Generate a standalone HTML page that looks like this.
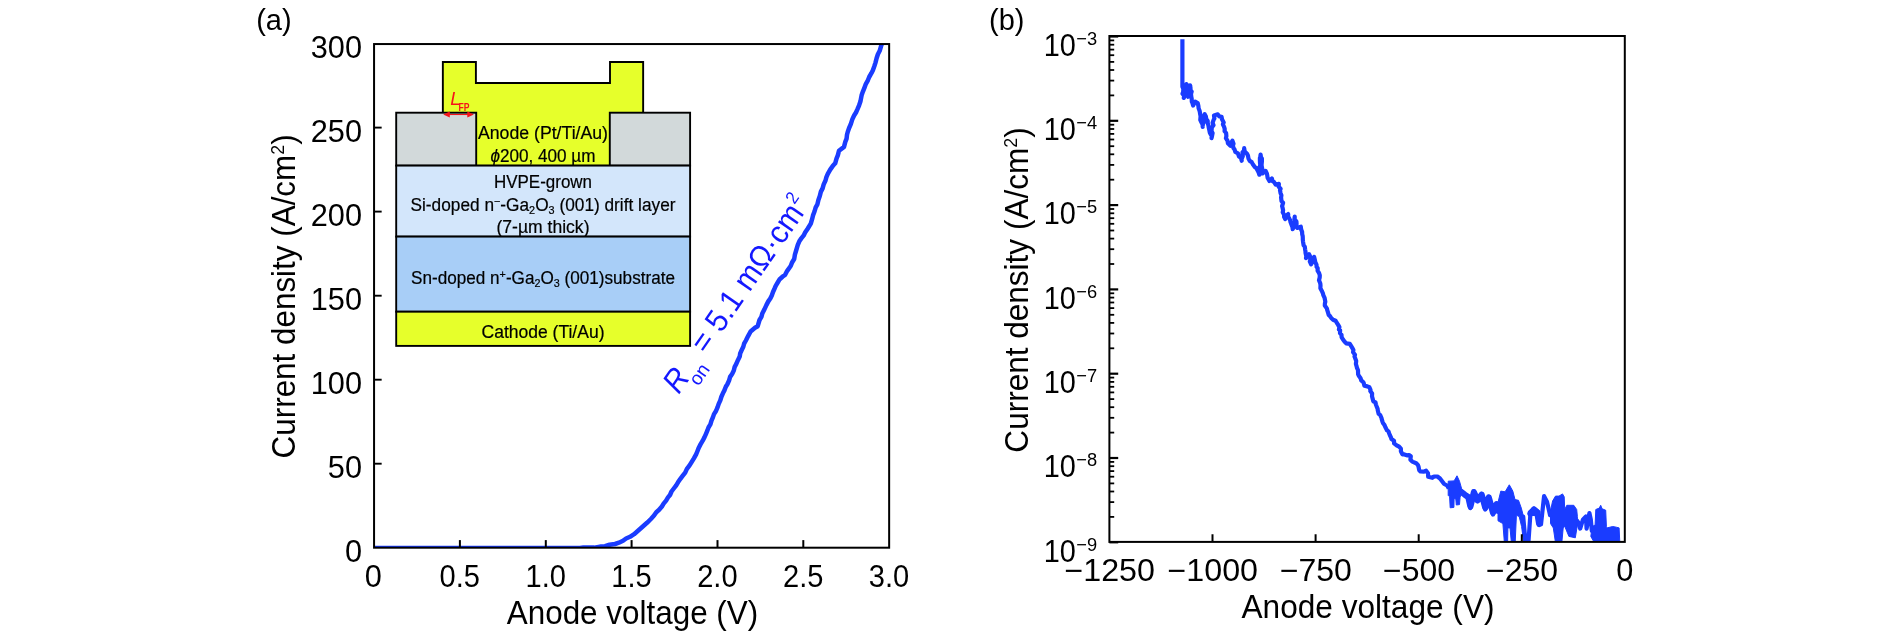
<!DOCTYPE html>
<html><head><meta charset="utf-8"><title>Figure</title>
<style>
html,body{margin:0;padding:0;background:#fff;}
body{width:1890px;height:636px;overflow:hidden;font-family:"Liberation Sans", sans-serif;}
svg{display:block;font-family:"Liberation Sans", sans-serif;will-change:transform;}
</style></head>
<body>
<svg width="1890" height="636" viewBox="0 0 1890 636">
<rect x="0" y="0" width="1890" height="636" fill="#ffffff"/>
<text x="373.3" y="587" font-size="30.7" text-anchor="middle" fill="#000" stroke="#000" stroke-width="0">0</text>
<text x="459.8" y="587" font-size="30.7" text-anchor="middle" fill="#000" stroke="#000" stroke-width="0" textLength="40.4" lengthAdjust="spacingAndGlyphs">0.5</text>
<text x="545.7" y="587" font-size="30.7" text-anchor="middle" fill="#000" stroke="#000" stroke-width="0" textLength="40.4" lengthAdjust="spacingAndGlyphs">1.0</text>
<text x="631.5" y="587" font-size="30.7" text-anchor="middle" fill="#000" stroke="#000" stroke-width="0" textLength="40.4" lengthAdjust="spacingAndGlyphs">1.5</text>
<text x="717.4" y="587" font-size="30.7" text-anchor="middle" fill="#000" stroke="#000" stroke-width="0" textLength="40.4" lengthAdjust="spacingAndGlyphs">2.0</text>
<text x="803.2" y="587" font-size="30.7" text-anchor="middle" fill="#000" stroke="#000" stroke-width="0" textLength="40.4" lengthAdjust="spacingAndGlyphs">2.5</text>
<text x="889.0" y="587" font-size="30.7" text-anchor="middle" fill="#000" stroke="#000" stroke-width="0" textLength="40.4" lengthAdjust="spacingAndGlyphs">3.0</text>
<text x="362" y="562.0" font-size="30.7" text-anchor="end" fill="#000" stroke="#000" stroke-width="0">0</text>
<text x="362" y="478.0" font-size="30.7" text-anchor="end" fill="#000" stroke="#000" stroke-width="0">50</text>
<text x="362" y="394.0" font-size="30.7" text-anchor="end" fill="#000" stroke="#000" stroke-width="0">100</text>
<text x="362" y="310.0" font-size="30.7" text-anchor="end" fill="#000" stroke="#000" stroke-width="0">150</text>
<text x="362" y="225.9" font-size="30.7" text-anchor="end" fill="#000" stroke="#000" stroke-width="0">200</text>
<text x="362" y="141.9" font-size="30.7" text-anchor="end" fill="#000" stroke="#000" stroke-width="0">250</text>
<text x="362" y="57.9" font-size="30.7" text-anchor="end" fill="#000" stroke="#000" stroke-width="0">300</text>
<text x="632.5" y="624.3" font-size="33.5" text-anchor="middle" fill="#000" stroke="#000" stroke-width="0" textLength="251.5" lengthAdjust="spacingAndGlyphs">Anode voltage (V)</text>
<g transform="translate(295 296.4) rotate(-90)">
<text x="0" y="0" font-size="33.5" text-anchor="middle" fill="#000" stroke="#000" stroke-width="0" textLength="324" lengthAdjust="spacingAndGlyphs">Current density (A/cm<tspan font-size="19" dy="-11">2</tspan><tspan dy="11">)</tspan></text>
</g>
<text x="256.2" y="30.2" font-size="29" text-anchor="start" fill="#000" stroke="#000" stroke-width="0">(a)</text>
<polygon points="442.85,62.05 475.9,62.05 475.9,83 610,83 610,62.05 643.15,62.05 643.15,165.6 442.85,165.6" fill="#e6ff2b" stroke="#000" stroke-width="1.9" stroke-linejoin="miter"/>
<rect x="396.2" y="112.7" width="80" height="52.9" fill="#d2d9da" stroke="#000" stroke-width="1.9"/>
<rect x="609.8" y="112.7" width="80.3" height="52.9" fill="#d2d9da" stroke="#000" stroke-width="1.9"/>
<rect x="396.2" y="165.6" width="293.9" height="71" fill="#d3e6fb" stroke="#000" stroke-width="1.9"/>
<rect x="396.2" y="236.6" width="293.9" height="75.1" fill="#a8cef7" stroke="#000" stroke-width="1.9"/>
<rect x="396.2" y="311.7" width="293.9" height="34.2" fill="#e6ff2b" stroke="#000" stroke-width="1.9"/>
<text x="543" y="138.8" font-size="17.5" text-anchor="middle" fill="#000" stroke="#000" stroke-width="0.2" textLength="130" lengthAdjust="spacingAndGlyphs">Anode (Pt/Ti/Au)</text>
<text x="543" y="162" font-size="17.5" text-anchor="middle" fill="#000" stroke="#000" stroke-width="0.2" textLength="105" lengthAdjust="spacingAndGlyphs"><tspan font-style="italic">&#981;</tspan>200, 400 &#181;m</text>
<text x="543" y="187.6" font-size="17.5" text-anchor="middle" fill="#000" stroke="#000" stroke-width="0.2" textLength="98" lengthAdjust="spacingAndGlyphs">HVPE-grown</text>
<text x="543" y="210.7" font-size="17.5" text-anchor="middle" fill="#000" stroke="#000" stroke-width="0.2" textLength="265" lengthAdjust="spacingAndGlyphs">Si-doped n<tspan font-size="11" dy="-6">&#8722;</tspan><tspan dy="6">-Ga</tspan><tspan font-size="11" dy="3">2</tspan><tspan dy="-3">O</tspan><tspan font-size="11" dy="3">3</tspan><tspan dy="-3"> (001) drift layer</tspan></text>
<text x="543" y="233" font-size="17.5" text-anchor="middle" fill="#000" stroke="#000" stroke-width="0.2" textLength="93" lengthAdjust="spacingAndGlyphs">(7-&#181;m thick)</text>
<text x="543" y="284" font-size="17.5" text-anchor="middle" fill="#000" stroke="#000" stroke-width="0.2" textLength="264" lengthAdjust="spacingAndGlyphs">Sn-doped n<tspan font-size="11" dy="-6">+</tspan><tspan dy="6">-Ga</tspan><tspan font-size="11" dy="3">2</tspan><tspan dy="-3">O</tspan><tspan font-size="11" dy="3">3</tspan><tspan dy="-3"> (001)substrate</tspan></text>
<text x="543" y="338" font-size="17.5" text-anchor="middle" fill="#000" stroke="#000" stroke-width="0.2" textLength="123" lengthAdjust="spacingAndGlyphs">Cathode (Ti/Au)</text>
<text x="450.3" y="104.8" font-size="18.5" text-anchor="start" fill="#f5141a" stroke="#f5141a" stroke-width="0" font-style="italic">L</text>
<text x="458.6" y="110.6" font-size="10" font-weight="bold" fill="#f5141a" textLength="11" lengthAdjust="spacingAndGlyphs">FP</text>
<path d="M446 114.5 L471.5 114.5" stroke="#f5141a" stroke-width="1.1" fill="none"/>
<path d="M443.2 114.5 l6.6 -3.1 v6.2 z M473.9 114.5 l-6.6 -3.1 v6.2 z" fill="#f5141a"/>
<clipPath id="cl"><rect x="374.06" y="44.05" width="515.0899999999999" height="503.65000000000003"/></clipPath>
<polyline clip-path="url(#cl)" points="374.3,548.0 560.0,548.0 580.0,548.0 583.3,547.6 587.2,547.4 590.5,547.6 594.0,547.6 597.2,547.1 600.9,546.6 605.0,546.2 609.6,544.7 615.0,544.0 618.9,542.7 623.0,540.8 626.1,538.5 630.0,536.8 634.1,534.2 638.0,530.8 641.1,528.0 644.5,525.0 647.0,522.8 650.9,519.0 654.0,515.6 656.3,512.2 659.1,509.8 661.9,506.5 663.6,503.7 666.1,500.6 668.0,497.4 670.0,495.0 671.5,491.5 673.8,488.5 676.2,485.3 678.0,482.3 680.4,478.8 682.6,475.9 685.2,472.6 686.9,468.9 689.4,465.7 691.9,461.6 693.9,458.3 696.1,454.4 697.3,451.5 698.8,447.7 700.5,444.4 702.7,440.7 704.4,437.4 706.0,433.8 707.3,430.7 708.6,427.3 710.4,424.4 711.5,420.6 712.9,417.4 714.0,414.1 716.0,411.0 717.7,406.9 718.7,403.9 720.3,400.4 721.3,397.0 722.9,393.3 724.3,390.6 725.8,386.7 727.5,384.0 729.1,380.3 730.1,376.9 732.1,374.0 733.8,370.6 734.7,366.8 736.3,363.9 737.9,360.2 739.7,356.6 740.2,353.4 741.6,350.3 743.3,346.8 744.1,343.7 745.9,340.5 748.1,336.1 750.6,331.5 755.0,327.8 757.7,326.2 759.5,320.0 761.4,316.8 762.4,313.2 764.4,309.4 766.5,304.9 768.3,301.4 770.3,298.5 771.8,295.4 773.0,292.0 774.5,288.7 775.7,285.8 777.7,282.5 779.7,279.2 782.5,276.7 785.0,275.0 787.2,270.8 790.7,266.0 792.2,262.2 794.2,259.0 794.9,254.6 796.0,251.0 797.8,244.8 799.3,241.3 801.3,238.4 803.7,235.4 805.1,232.6 807.5,229.0 810.8,223.6 812.1,219.2 813.0,215.4 814.5,211.5 815.7,207.3 817.4,204.3 818.4,200.0 819.8,196.1 820.8,191.9 822.6,188.4 823.7,184.4 825.5,180.5 826.4,177.1 827.8,173.8 830.2,169.6 832.7,166.1 835.2,163.3 836.5,158.6 837.8,155.4 839.0,150.7 844.0,146.9 845.3,141.9 846.6,138.6 847.0,134.8 847.8,131.7 849.1,128.0 850.8,124.1 852.3,119.4 854.1,115.5 856.0,112.5 857.6,108.9 859.1,105.3 860.4,101.6 861.6,95.3 862.9,91.6 864.6,87.3 865.9,83.8 867.9,80.3 869.2,77.0 871.4,73.2 872.9,70.2 874.4,66.0 875.5,62.6 876.6,58.3 877.9,54.2 879.7,50.8 881.0,46.3 883.0,41.0" fill="none" stroke="#1a3cff" stroke-width="4.5" stroke-linejoin="round" stroke-linecap="butt"/>
<rect x="374.06" y="44.05" width="515.0899999999999" height="503.65000000000003" fill="none" stroke="#000" stroke-width="2"/>
<line x1="459.9" y1="547.7" x2="459.9" y2="540.1" stroke="#000" stroke-width="2"/>
<line x1="545.8" y1="547.7" x2="545.8" y2="540.1" stroke="#000" stroke-width="2"/>
<line x1="631.6" y1="547.7" x2="631.6" y2="540.1" stroke="#000" stroke-width="2"/>
<line x1="717.5" y1="547.7" x2="717.5" y2="540.1" stroke="#000" stroke-width="2"/>
<line x1="803.3" y1="547.7" x2="803.3" y2="540.1" stroke="#000" stroke-width="2"/>
<line x1="374.06" y1="463.7" x2="381.66" y2="463.7" stroke="#000" stroke-width="1.9"/>
<line x1="374.06" y1="379.7" x2="381.66" y2="379.7" stroke="#000" stroke-width="1.9"/>
<line x1="374.06" y1="295.7" x2="381.66" y2="295.7" stroke="#000" stroke-width="1.9"/>
<line x1="374.06" y1="211.6" x2="381.66" y2="211.6" stroke="#000" stroke-width="1.9"/>
<line x1="374.06" y1="127.6" x2="381.66" y2="127.6" stroke="#000" stroke-width="1.9"/>
<g transform="translate(678.8 395) rotate(-55.3)">
<text x="0" y="0" font-size="32" text-anchor="start" fill="#1418ff" stroke="#1418ff" stroke-width="0" textLength="21.4" lengthAdjust="spacingAndGlyphs" font-style="italic">R</text>
<text x="18" y="11.6" font-size="19" text-anchor="start" fill="#1418ff" stroke="#1418ff" stroke-width="0">on</text>
<text x="48.6" y="0" font-size="32" text-anchor="start" fill="#1418ff" stroke="#1418ff" stroke-width="0" textLength="172.8" lengthAdjust="spacingAndGlyphs">= 5.1 m&#937;&#183;cm</text>
<text x="222" y="-13" font-size="18" text-anchor="start" fill="#1418ff" stroke="#1418ff" stroke-width="0" textLength="9.3" lengthAdjust="spacingAndGlyphs">2</text>
</g>
<text x="1624.8" y="580.5" font-size="30.7" text-anchor="middle" fill="#000" stroke="#000" stroke-width="0">0</text>
<text x="1522.1" y="580.5" font-size="30.7" text-anchor="middle" fill="#000" stroke="#000" stroke-width="0" textLength="72" lengthAdjust="spacingAndGlyphs">&#8722;250</text>
<text x="1419.0" y="580.5" font-size="30.7" text-anchor="middle" fill="#000" stroke="#000" stroke-width="0" textLength="72" lengthAdjust="spacingAndGlyphs">&#8722;500</text>
<text x="1315.9" y="580.5" font-size="30.7" text-anchor="middle" fill="#000" stroke="#000" stroke-width="0" textLength="72" lengthAdjust="spacingAndGlyphs">&#8722;750</text>
<text x="1212.8" y="580.5" font-size="30.7" text-anchor="middle" fill="#000" stroke="#000" stroke-width="0" textLength="90.5" lengthAdjust="spacingAndGlyphs">&#8722;1000</text>
<text x="1109.7" y="580.5" font-size="30.7" text-anchor="middle" fill="#000" stroke="#000" stroke-width="0" textLength="90.5" lengthAdjust="spacingAndGlyphs">&#8722;1250</text>
<text x="1043.8" y="55.8" font-size="30.7" text-anchor="start" fill="#000" stroke="#000" stroke-width="0" textLength="32.1" lengthAdjust="spacingAndGlyphs">10</text>
<text x="1076.3" y="44.8" font-size="18.3" text-anchor="start" fill="#000" stroke="#000" stroke-width="0">&#8722;3</text>
<text x="1043.8" y="140.1" font-size="30.7" text-anchor="start" fill="#000" stroke="#000" stroke-width="0" textLength="32.1" lengthAdjust="spacingAndGlyphs">10</text>
<text x="1076.3" y="129.1" font-size="18.3" text-anchor="start" fill="#000" stroke="#000" stroke-width="0">&#8722;4</text>
<text x="1043.8" y="224.4" font-size="30.7" text-anchor="start" fill="#000" stroke="#000" stroke-width="0" textLength="32.1" lengthAdjust="spacingAndGlyphs">10</text>
<text x="1076.3" y="213.4" font-size="18.3" text-anchor="start" fill="#000" stroke="#000" stroke-width="0">&#8722;5</text>
<text x="1043.8" y="308.7" font-size="30.7" text-anchor="start" fill="#000" stroke="#000" stroke-width="0" textLength="32.1" lengthAdjust="spacingAndGlyphs">10</text>
<text x="1076.3" y="297.7" font-size="18.3" text-anchor="start" fill="#000" stroke="#000" stroke-width="0">&#8722;6</text>
<text x="1043.8" y="393.0" font-size="30.7" text-anchor="start" fill="#000" stroke="#000" stroke-width="0" textLength="32.1" lengthAdjust="spacingAndGlyphs">10</text>
<text x="1076.3" y="382.0" font-size="18.3" text-anchor="start" fill="#000" stroke="#000" stroke-width="0">&#8722;7</text>
<text x="1043.8" y="477.3" font-size="30.7" text-anchor="start" fill="#000" stroke="#000" stroke-width="0" textLength="32.1" lengthAdjust="spacingAndGlyphs">10</text>
<text x="1076.3" y="466.3" font-size="18.3" text-anchor="start" fill="#000" stroke="#000" stroke-width="0">&#8722;8</text>
<text x="1043.8" y="561.6" font-size="30.7" text-anchor="start" fill="#000" stroke="#000" stroke-width="0" textLength="32.1" lengthAdjust="spacingAndGlyphs">10</text>
<text x="1076.3" y="550.6" font-size="18.3" text-anchor="start" fill="#000" stroke="#000" stroke-width="0">&#8722;9</text>
<text x="1368" y="618.3" font-size="33.5" text-anchor="middle" fill="#000" stroke="#000" stroke-width="0" textLength="253" lengthAdjust="spacingAndGlyphs">Anode voltage (V)</text>
<g transform="translate(1027.8 290) rotate(-90)">
<text x="0" y="0" font-size="33.5" text-anchor="middle" fill="#000" stroke="#000" stroke-width="0" textLength="325.3" lengthAdjust="spacingAndGlyphs">Current density (A/cm<tspan font-size="19" dy="-11">2</tspan><tspan dy="11">)</tspan></text>
</g>
<text x="989" y="30.2" font-size="29" text-anchor="start" fill="#000" stroke="#000" stroke-width="0">(b)</text>
<clipPath id="cr"><rect x="1109.4" y="36.0" width="515.4" height="505.9"/></clipPath>
<g clip-path="url(#cr)">
<polyline points="1461.2,491.8 1464.8,494.7 1468.3,497.1 1470.4,506.4 1473.9,492.2 1477.5,500.3 1481.7,494.7 1485.3,507.8 1488.8,497.5 1493.0,512.6 1496.6,504.1 1498.3,510.9" fill="none" stroke="#1a3cff" stroke-width="6.2" stroke-linejoin="round" stroke-linecap="round"/>
<polyline points="1530.5,512.6 1534.1,509.2 1537.6,512.1 1530.0,513.7 1533.5,509.5 1537.1,513.7 1538.8,523.9" fill="none" stroke="#1a3cff" stroke-width="5.5" stroke-linejoin="round" stroke-linecap="round"/>
<polyline points="1182.4,39.2 1182.4,86.6 1183.3,88.8 1183.2,91.7 1182.5,93.7 1184.3,96.1 1183.8,97.9 1184.7,95.6 1184.1,93.8 1184.8,91.5 1186.4,88.5 1185.8,87.2 1186.4,84.1 1187.1,86.0 1186.4,88.5 1188.1,92.2 1187.1,94.8 1188.1,96.7 1189.4,94.7 1188.6,92.2 1188.6,89.0 1190.5,87.8 1190.1,85.3 1190.5,88.3 1190.6,90.5 1191.7,91.5 1191.0,93.9 1191.3,96.7 1191.7,98.6 1191.8,101.7 1192.5,103.2 1193.1,105.5 1195.2,101.7 1197.7,103.0 1198.4,106.0 1198.6,108.3 1199.2,109.8 1199.7,111.2 1200.2,114.3 1200.6,116.2 1200.3,119.9 1201.1,121.8 1202.6,124.5 1202.7,126.9 1202.8,124.4 1203.6,122.4 1203.2,119.4 1203.8,116.4 1204.7,114.3 1205.9,116.5 1206.3,119.2 1207.7,120.8 1207.7,123.1 1208.4,125.3 1208.8,127.8 1209.2,129.6 1209.8,132.5 1210.8,134.6 1211.8,135.6 1211.5,138.2 1211.9,136.7 1212.6,133.0 1211.6,131.3 1211.7,128.7 1212.0,127.2 1213.5,125.3 1212.6,122.7 1213.8,119.4 1214.4,118.6 1214.0,115.5 1217.8,114.3 1219.2,116.4 1221.6,116.8 1222.0,119.3 1223.7,122.4 1222.9,124.3 1224.1,126.9 1224.7,128.9 1224.6,131.2 1226.1,133.0 1226.4,136.1 1225.9,138.2 1227.6,140.9 1227.9,143.2 1230.4,145.7 1230.6,144.1 1232.4,140.7 1233.5,143.8 1232.9,144.8 1233.4,148.0 1234.4,149.1 1235.4,152.0 1237.9,153.3 1239.0,156.5 1241.0,157.9 1241.7,160.8 1241.6,159.0 1242.8,156.1 1242.5,152.4 1244.0,150.6 1244.2,148.2 1244.7,151.5 1247.0,153.8 1248.0,155.8 1248.5,158.6 1249.7,160.9 1251.7,162.1 1253.0,164.6 1255.0,167.3 1256.8,168.4 1257.2,169.8 1258.5,172.1 1259.3,174.7 1258.7,171.8 1258.8,169.7 1259.4,167.6 1260.3,165.3 1260.0,162.9 1259.9,160.4 1259.9,158.1 1260.9,156.8 1260.6,154.5 1260.3,156.8 1261.9,158.5 1261.9,161.5 1261.6,164.6 1261.7,166.3 1262.4,169.5 1262.1,171.6 1262.6,173.4 1265.6,170.9 1266.9,173.7 1267.3,175.7 1267.6,177.8 1269.4,181.0 1271.9,178.4 1272.4,180.9 1274.0,182.0 1275.7,184.7 1278.9,183.9 1278.7,186.8 1280.6,188.7 1280.0,190.2 1280.5,192.9 1281.4,195.2 1281.1,197.6 1281.5,201.1 1283.1,202.8 1282.1,206.1 1282.5,207.5 1283.1,210.3 1282.7,212.3 1284.1,214.7 1284.1,216.9 1285.2,219.1 1285.8,216.2 1288.2,214.1 1288.1,216.0 1288.7,217.4 1290.2,220.4 1290.5,222.1 1291.6,224.9 1292.5,227.3 1292.7,229.2 1293.5,227.4 1293.3,223.8 1294.8,221.0 1294.7,219.4 1294.7,216.6 1294.4,219.5 1296.4,221.3 1296.6,223.9 1296.1,225.7 1297.2,227.9 1300.8,226.7 1301.2,229.6 1302.1,231.8 1302.2,234.2 1302.7,236.1 1302.8,238.0 1302.8,239.4 1303.1,242.1 1303.6,245.2 1304.8,246.8 1305.1,249.3 1305.5,251.6 1305.5,252.7 1306.3,256.3 1306.0,258.1 1307.6,256.3 1309.1,254.3 1309.9,256.0 1310.5,258.9 1309.8,261.5 1311.1,264.4 1312.5,261.4 1313.5,260.3 1314.1,256.9 1314.7,259.2 1315.3,262.2 1316.5,264.6 1316.6,266.9 1317.7,268.2 1317.6,270.7 1319.1,273.2 1319.8,275.4 1319.7,277.4 1319.0,280.3 1320.3,283.6 1320.5,285.4 1320.4,288.3 1321.7,290.7 1322.9,293.3 1323.3,295.1 1324.6,297.8 1325.3,301.7 1324.9,303.4 1324.8,305.5 1327.0,308.6 1327.1,309.6 1327.9,312.2 1328.7,314.9 1330.0,316.1 1331.2,317.9 1333.1,319.7 1335.5,320.7 1336.9,323.0 1338.0,324.6 1339.4,327.1 1338.9,329.6 1340.1,330.1 1340.0,333.1 1341.5,334.9 1341.6,337.1 1343.0,339.5 1344.7,341.8 1346.2,343.3 1349.8,343.8 1351.2,346.1 1352.7,348.6 1353.4,350.0 1353.1,352.3 1355.0,354.7 1354.5,356.5 1355.1,358.0 1356.2,360.9 1355.9,364.0 1356.7,366.7 1357.0,367.9 1358.0,370.3 1358.1,374.1 1358.8,375.8 1360.6,378.3 1361.3,380.5 1363.0,381.8 1363.7,382.9 1364.4,385.7 1367.3,386.4 1369.4,387.3 1370.5,389.9 1370.3,391.1 1372.1,393.6 1372.0,396.3 1372.7,398.9 1373.3,401.3 1375.5,402.4 1375.9,404.5 1376.7,406.6 1377.6,408.8 1377.8,410.4 1378.7,413.9 1380.1,414.9 1381.7,418.5 1381.7,419.2 1382.6,422.0 1383.1,423.2 1384.5,425.1 1385.4,427.3 1387.1,430.4 1388.5,431.4 1389.2,433.5 1390.0,435.5 1390.9,437.2 1391.4,439.0 1394.0,440.7 1394.1,443.4 1396.6,445.3 1399.1,446.7 1400.9,448.7 1400.9,451.3 1402.4,454.3 1404.4,454.4 1407.6,455.4 1409.0,455.0 1410.8,456.3 1410.4,459.8 1412.3,461.6 1416.2,463.2 1418.0,465.2 1418.5,466.5 1419.2,470.2 1420.5,471.5 1423.9,471.7 1426.1,470.7 1428.0,473.3 1428.2,476.8 1432.3,477.8 1434.1,476.5 1437.4,476.5 1440.0,478.5 1444.2,484.0 1447.1,485.5 1448.8,488.3" fill="none" stroke="#1a3cff" stroke-width="4.2" stroke-linejoin="round" stroke-linecap="butt"/>
<polyline points="1460.9,491.1 1464.0,493.9 1468.3,496.8 1470.4,508.1 1473.9,491.1 1477.5,501.0 1481.7,493.9 1485.3,509.5 1488.8,496.8 1493.0,514.5 1496.6,503.8 1498.3,510.9" fill="none" stroke="#1a3cff" stroke-width="4.2" stroke-linejoin="round" stroke-linecap="round"/>
<polyline points="1523.2,516.6 1525.6,542.7 1528.4,542.7 1530.5,512.3 1534.1,508.8 1537.6,511.6 1539.0,522.2 1539.2,525.1 1541.0,524.4 1544.1,496.1 1547.0,501.7 1550.1,515.2" fill="none" stroke="#1a3cff" stroke-width="4.2" stroke-linejoin="round" stroke-linecap="round"/>
<polyline points="1537.6,511.6 1530.0,513.0 1533.5,508.8 1537.1,513.0 1538.8,524.4" fill="none" stroke="#1a3cff" stroke-width="4.2" stroke-linejoin="round" stroke-linecap="round"/>
<polyline points="1577.1,520.8 1578.1,522.2 1580.2,528.6 1583.0,519.4 1585.9,516.6 1586.6,528.6 1589.4,513.0 1590.8,519.4 1591.8,530.7" fill="none" stroke="#1a3cff" stroke-width="4.2" stroke-linejoin="round" stroke-linecap="round"/>
<polygon points="1448.2,481.2 1454.1,480.9 1457.0,475.8 1459.5,481.2 1461.5,488.3 1461.5,493.9 1460.1,497.1 1459.5,504.6 1456.3,505.0 1455.8,498.9 1454.1,498.5 1453.9,507.4 1450.2,507.8 1449.6,496.8 1448.2,495.4" fill="#1a3cff" stroke="#1a3cff" stroke-width="1" stroke-linejoin="round"/>
<polygon points="1498.0,502.4 1500.8,491.1 1505.1,491.8 1509.3,484.8 1512.8,491.1 1515.0,499.6 1518.5,500.3 1521.3,508.1 1523.5,516.6 1523.7,542.7 1521.6,526.5 1519.2,516.6 1516.4,515.2 1515.2,542.7 1511.4,542.7 1510.0,527.9 1507.9,527.9 1507.6,542.7 1504.4,542.7 1502.9,523.6 1498.0,520.8" fill="#1a3cff" stroke="#1a3cff" stroke-width="1" stroke-linejoin="round"/>
<polygon points="1550.5,510.9 1552.6,501.0 1555.5,496.1 1559.0,496.1 1562.5,493.9 1564.2,496.8 1564.7,509.5 1566.8,505.3 1573.8,505.3 1576.7,509.5 1577.4,516.6 1577.4,525.1 1575.3,537.8 1568.9,536.4 1565.4,527.9 1564.7,526.5 1563.2,527.9 1561.8,542.7 1555.5,542.7 1553.3,527.9 1550.5,523.6" fill="#1a3cff" stroke="#1a3cff" stroke-width="1" stroke-linejoin="round"/>
<polygon points="1592.2,526.5 1595.1,525.1 1595.8,509.5 1599.3,508.1 1600.7,505.3 1602.1,508.8 1605.7,510.2 1606.4,526.5 1607.1,527.9 1612.7,526.5 1616.3,527.2 1619.1,527.9 1619.8,542.7 1594.4,542.7 1590.8,536.4" fill="#1a3cff" stroke="#1a3cff" stroke-width="1" stroke-linejoin="round"/>
</g>
<rect x="1109.4" y="36.0" width="515.4" height="505.9" fill="none" stroke="#000" stroke-width="2"/>
<line x1="1521.8" y1="541.85" x2="1521.8" y2="534.25" stroke="#000" stroke-width="2"/>
<line x1="1418.7" y1="541.85" x2="1418.7" y2="534.25" stroke="#000" stroke-width="2"/>
<line x1="1315.6" y1="541.85" x2="1315.6" y2="534.25" stroke="#000" stroke-width="2"/>
<line x1="1212.5" y1="541.85" x2="1212.5" y2="534.25" stroke="#000" stroke-width="2"/>
<line x1="1109.4" y1="36.5" x2="1118.2" y2="36.5" stroke="#000" stroke-width="2.2"/>
<line x1="1109.4" y1="95.4" x2="1114.2" y2="95.4" stroke="#000" stroke-width="1.8"/>
<line x1="1109.4" y1="80.6" x2="1114.2" y2="80.6" stroke="#000" stroke-width="1.8"/>
<line x1="1109.4" y1="70.0" x2="1114.2" y2="70.0" stroke="#000" stroke-width="1.8"/>
<line x1="1109.4" y1="61.9" x2="1114.2" y2="61.9" stroke="#000" stroke-width="1.8"/>
<line x1="1109.4" y1="55.2" x2="1114.2" y2="55.2" stroke="#000" stroke-width="1.8"/>
<line x1="1109.4" y1="49.6" x2="1114.2" y2="49.6" stroke="#000" stroke-width="1.8"/>
<line x1="1109.4" y1="44.7" x2="1114.2" y2="44.7" stroke="#000" stroke-width="1.8"/>
<line x1="1109.4" y1="40.4" x2="1114.2" y2="40.4" stroke="#000" stroke-width="1.8"/>
<line x1="1109.4" y1="120.8" x2="1118.2" y2="120.8" stroke="#000" stroke-width="2.2"/>
<line x1="1109.4" y1="179.7" x2="1114.2" y2="179.7" stroke="#000" stroke-width="1.8"/>
<line x1="1109.4" y1="164.9" x2="1114.2" y2="164.9" stroke="#000" stroke-width="1.8"/>
<line x1="1109.4" y1="154.3" x2="1114.2" y2="154.3" stroke="#000" stroke-width="1.8"/>
<line x1="1109.4" y1="146.2" x2="1114.2" y2="146.2" stroke="#000" stroke-width="1.8"/>
<line x1="1109.4" y1="139.5" x2="1114.2" y2="139.5" stroke="#000" stroke-width="1.8"/>
<line x1="1109.4" y1="133.9" x2="1114.2" y2="133.9" stroke="#000" stroke-width="1.8"/>
<line x1="1109.4" y1="129.0" x2="1114.2" y2="129.0" stroke="#000" stroke-width="1.8"/>
<line x1="1109.4" y1="124.7" x2="1114.2" y2="124.7" stroke="#000" stroke-width="1.8"/>
<line x1="1109.4" y1="205.1" x2="1118.2" y2="205.1" stroke="#000" stroke-width="2.2"/>
<line x1="1109.4" y1="264.0" x2="1114.2" y2="264.0" stroke="#000" stroke-width="1.8"/>
<line x1="1109.4" y1="249.2" x2="1114.2" y2="249.2" stroke="#000" stroke-width="1.8"/>
<line x1="1109.4" y1="238.6" x2="1114.2" y2="238.6" stroke="#000" stroke-width="1.8"/>
<line x1="1109.4" y1="230.5" x2="1114.2" y2="230.5" stroke="#000" stroke-width="1.8"/>
<line x1="1109.4" y1="223.8" x2="1114.2" y2="223.8" stroke="#000" stroke-width="1.8"/>
<line x1="1109.4" y1="218.2" x2="1114.2" y2="218.2" stroke="#000" stroke-width="1.8"/>
<line x1="1109.4" y1="213.3" x2="1114.2" y2="213.3" stroke="#000" stroke-width="1.8"/>
<line x1="1109.4" y1="209.0" x2="1114.2" y2="209.0" stroke="#000" stroke-width="1.8"/>
<line x1="1109.4" y1="289.4" x2="1118.2" y2="289.4" stroke="#000" stroke-width="2.2"/>
<line x1="1109.4" y1="348.3" x2="1114.2" y2="348.3" stroke="#000" stroke-width="1.8"/>
<line x1="1109.4" y1="333.5" x2="1114.2" y2="333.5" stroke="#000" stroke-width="1.8"/>
<line x1="1109.4" y1="322.9" x2="1114.2" y2="322.9" stroke="#000" stroke-width="1.8"/>
<line x1="1109.4" y1="314.8" x2="1114.2" y2="314.8" stroke="#000" stroke-width="1.8"/>
<line x1="1109.4" y1="308.1" x2="1114.2" y2="308.1" stroke="#000" stroke-width="1.8"/>
<line x1="1109.4" y1="302.5" x2="1114.2" y2="302.5" stroke="#000" stroke-width="1.8"/>
<line x1="1109.4" y1="297.6" x2="1114.2" y2="297.6" stroke="#000" stroke-width="1.8"/>
<line x1="1109.4" y1="293.3" x2="1114.2" y2="293.3" stroke="#000" stroke-width="1.8"/>
<line x1="1109.4" y1="373.7" x2="1118.2" y2="373.7" stroke="#000" stroke-width="2.2"/>
<line x1="1109.4" y1="432.6" x2="1114.2" y2="432.6" stroke="#000" stroke-width="1.8"/>
<line x1="1109.4" y1="417.8" x2="1114.2" y2="417.8" stroke="#000" stroke-width="1.8"/>
<line x1="1109.4" y1="407.2" x2="1114.2" y2="407.2" stroke="#000" stroke-width="1.8"/>
<line x1="1109.4" y1="399.1" x2="1114.2" y2="399.1" stroke="#000" stroke-width="1.8"/>
<line x1="1109.4" y1="392.4" x2="1114.2" y2="392.4" stroke="#000" stroke-width="1.8"/>
<line x1="1109.4" y1="386.8" x2="1114.2" y2="386.8" stroke="#000" stroke-width="1.8"/>
<line x1="1109.4" y1="381.9" x2="1114.2" y2="381.9" stroke="#000" stroke-width="1.8"/>
<line x1="1109.4" y1="377.6" x2="1114.2" y2="377.6" stroke="#000" stroke-width="1.8"/>
<line x1="1109.4" y1="458.0" x2="1118.2" y2="458.0" stroke="#000" stroke-width="2.2"/>
<line x1="1109.4" y1="516.9" x2="1114.2" y2="516.9" stroke="#000" stroke-width="1.8"/>
<line x1="1109.4" y1="502.1" x2="1114.2" y2="502.1" stroke="#000" stroke-width="1.8"/>
<line x1="1109.4" y1="491.5" x2="1114.2" y2="491.5" stroke="#000" stroke-width="1.8"/>
<line x1="1109.4" y1="483.4" x2="1114.2" y2="483.4" stroke="#000" stroke-width="1.8"/>
<line x1="1109.4" y1="476.7" x2="1114.2" y2="476.7" stroke="#000" stroke-width="1.8"/>
<line x1="1109.4" y1="471.1" x2="1114.2" y2="471.1" stroke="#000" stroke-width="1.8"/>
<line x1="1109.4" y1="466.2" x2="1114.2" y2="466.2" stroke="#000" stroke-width="1.8"/>
<line x1="1109.4" y1="461.9" x2="1114.2" y2="461.9" stroke="#000" stroke-width="1.8"/>
<line x1="1109.4" y1="542.3" x2="1118.2" y2="542.3" stroke="#000" stroke-width="2.2"/>
</svg>
</body></html>
